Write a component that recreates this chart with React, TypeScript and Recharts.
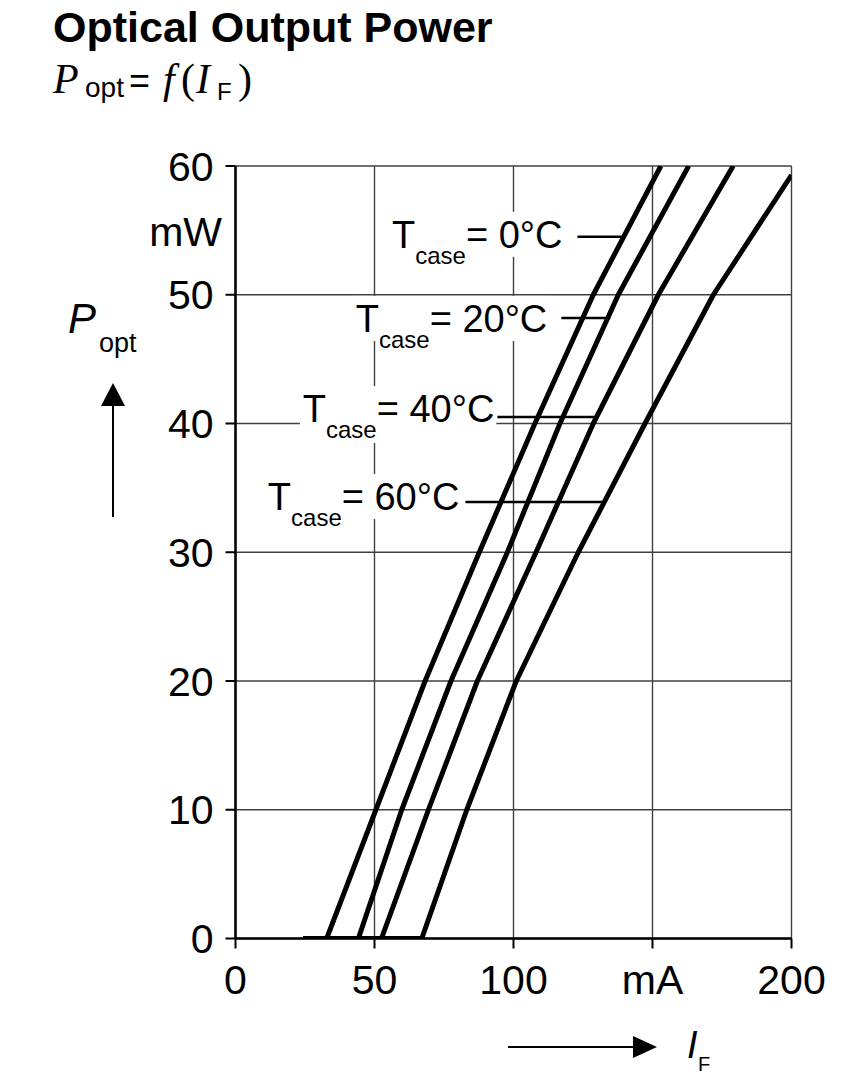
import { LineChart, Line, XAxis, YAxis, CartesianGrid, ReferenceLine } from "recharts";

// forward current (mA) and optical power (mW) per case temperature
const currentT0 = [24.4, 32.8, 50.5, 68.2, 87.7, 107.7, 128.7, 153];
const powerT0 = [0, 0, 10, 20, 30, 40, 50, 60];
const currentT20 = [24.4, 44.2, 59.8, 77.5, 97.8, 116.7, 137.7, 163];
const powerT20 = [0, 0, 10, 20, 30, 40, 50, 60];
const currentT40 = [24.4, 52.5, 69.4, 87, 108.1, 128.7, 152.1, 179];
const powerT40 = [0, 0, 10, 20, 30, 40, 50, 60];
const currentT60 = [24.4, 67, 83.2, 101, 123.3, 147.3, 171.9, 200];
const powerT60 = [0, 0, 10, 20, 30, 40, 50, 59.3];

const temperatures = ["0°C", "20°C", "40°C", "60°C"];

const xTicks = [0, 50, 100, 150, 200];
const xTickLabels = ["0", "50", "100", "mA", "200"];
const yTicks = [0, 10, 20, 30, 40, 50, 60];

// leader lines from the labels to their curves
const tagY = [54.5, 48.2, 40.5, 33.9];
const tagFrom = [123, 117.2, 94.2, 82.7];
const tagTo = [139.7, 134.8, 130.3, 132.6];
const tagGap = [15, 14, 3, 6];
const tagBase = [11, 14, 5, 8];

const toPoints = (xs: number[], ys: number[]) => xs.map((x, i) => ({ x, y: ys[i] }));
const series = [
  toPoints(currentT0, powerT0),
  toPoints(currentT20, powerT20),
  toPoints(currentT40, powerT40),
  toPoints(currentT60, powerT60),
];

const SANS = "'Liberation Sans', Arial, Helvetica, sans-serif";
const SERIF = "'Liberation Serif', 'Times New Roman', serif";

const CHAR_W: Record<string, number> = {
  "=": 0.584, " ": 0.278, "0": 0.556, "2": 0.556, "4": 0.556, "6": 0.556, "°": 0.4, C: 0.722,
};
const textWidth = (s: string, size: number) =>
  s.split("").reduce((acc, ch) => acc + (CHAR_W[ch] ?? 0.556), 0) * size;

const renderTag = (i: number) => (props: any) => {
  const vb = props.viewBox;
  if (!vb) return null;
  const end = vb.x - tagGap[i];
  const base = vb.y + tagBase[i];
  const mainW = 38 * 0.611;
  const subW = 24 * 2.112;
  const restW = textWidth("= " + temperatures[i], 38);
  const start = end - mainW - subW - restW;
  return (
    <g>
      <rect x={start - 3} y={base - 36} width={end - start + 5} height={45} fill="#fff" />
      <rect x={start + mainW} y={base} width={subW + 2} height={21} fill="#fff" />
      <text x={end} y={base} textAnchor="end" fontFamily={SANS} fill="#000">
        <tspan fontSize={38}>T</tspan>
        <tspan fontSize={24} dy={16}>case</tspan>
        <tspan fontSize={38} dy={-16}>{"= " + temperatures[i]}</tspan>
      </text>
    </g>
  );
};

export default function App() {
  return (
    <div style={{ position: "relative", width: 846, height: 1067, background: "#fff" }}>
      <LineChart
        width={846}
        height={1067}
        margin={{ top: 158, right: 62.5, bottom: 76.5, left: 147.5 }}
      >
        <CartesianGrid stroke="#404040" strokeWidth={1.4} />
        <XAxis
          type="number"
          dataKey="x"
          domain={[0, 200]}
          ticks={xTicks}
          interval={0}
          allowDataOverflow
          height={60}
          tickSize={10}
          tickMargin={16}
          tickFormatter={(v: number) => xTickLabels[xTicks.indexOf(v)] ?? String(v)}
          axisLine={{ stroke: "#000", strokeWidth: 2.5 }}
          tickLine={{ stroke: "#000", strokeWidth: 2 }}
          tick={{ fill: "#000", fontSize: 41, fontFamily: SANS }}
        />
        <YAxis
          type="number"
          domain={[0, 60]}
          ticks={yTicks}
          interval={0}
          allowDataOverflow
          width={80}
          tickSize={10}
          tickMargin={12}
          axisLine={{ stroke: "#000", strokeWidth: 2.5 }}
          tickLine={{ stroke: "#000", strokeWidth: 2 }}
          tick={{ fill: "#000", fontSize: 41, fontFamily: SANS }}
        />
        {series.map((s, i) => (
          <Line
            key={temperatures[i]}
            data={s}
            dataKey="y"
            type="linear"
            stroke="#000"
            strokeWidth={5}
            strokeLinejoin="round"
            dot={false}
            activeDot={false}
            isAnimationActive={false}
          />
        ))}
        {temperatures.map((t, i) => (
          <ReferenceLine
            key={"tag-" + t}
            segment={[
              { x: tagFrom[i], y: tagY[i] },
              { x: tagTo[i], y: tagY[i] },
            ]}
            stroke="#000"
            strokeWidth={2.5}
            label={renderTag(i)}
          />
        ))}
      </LineChart>

      <svg
        width={846}
        height={1067}
        style={{ position: "absolute", left: 0, top: 0, pointerEvents: "none", overflow: "visible" }}
      >
        <text x={45} y={34} fontFamily={SANS} fontWeight="bold" fontSize={43} fill="#000">
          Optical Output Power
        </text>
        {/* P_opt = f(I_F) */}
        <text x={45} y={85} fontFamily={SERIF} fontStyle="italic" fontSize={42} fill="#000">P</text>
        <text x={77} y={89} fontFamily={SANS} fontSize={28} fill="#000">opt</text>
        <text x={121} y={85} fontFamily={SANS} fontSize={36} fill="#000">=</text>
        <text x={155} y={85} fontFamily={SERIF} fontStyle="italic" fontSize={42} fill="#000">f</text>
        <text x={173} y={85} fontFamily={SERIF} fontSize={42} fill="#000">(</text>
        <text x={188} y={85} fontFamily={SERIF} fontStyle="italic" fontSize={42} fill="#000">I</text>
        <text x={209} y={92} fontFamily={SANS} fontSize={24} fill="#000">F</text>
        <text x={230} y={85} fontFamily={SERIF} fontSize={42} fill="#000">)</text>

        {/* y axis title with arrow */}
        <text x={60} y={325} fontFamily={SANS} fontStyle="italic" fontSize={42} fill="#000">P</text>
        <text x={91} y={344} fontFamily={SANS} fontSize={27} fill="#000">opt</text>
        <line x1={105} y1={509} x2={105} y2={395} stroke="#000" strokeWidth={2} />
        <polygon points="105,375 93,398 117,398" fill="#000" />
        <text x={214} y={238} textAnchor="end" fontFamily={SANS} fontSize={41} fill="#000">mW</text>

        {/* x axis title with arrow */}
        <line x1={500} y1={1039} x2={628} y2={1039} stroke="#000" strokeWidth={2} />
        <polygon points="649,1039 625,1028 625,1050" fill="#000" />
        <text x={679} y={1050} fontFamily={SANS} fontStyle="italic" fontSize={38} fill="#000">I</text>
        <text x={690} y={1063} fontFamily={SANS} fontSize={20} fill="#000">F</text>
      </svg>
    </div>
  );
}
